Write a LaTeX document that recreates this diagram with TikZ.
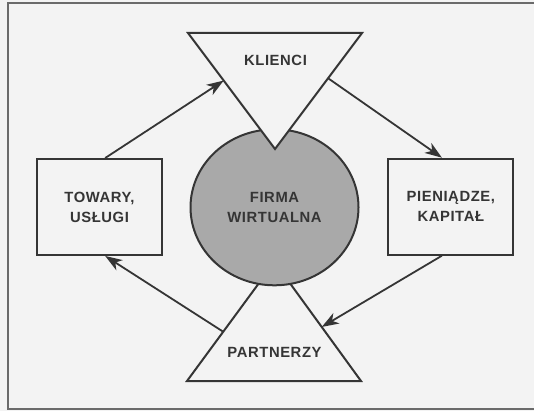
\documentclass[tikz,border=0pt]{standalone}
\usepackage{fontspec}
\setmainfont{Liberation Sans}[LetterSpace=4]
\usetikzlibrary{arrows.meta,shapes.geometric,calc}
\definecolor{ink}{HTML}{353535}
\definecolor{paper}{HTML}{F3F3F3}
\definecolor{disc}{HTML}{A9A9A9}
\definecolor{framec}{HTML}{6A6A6A}
\begin{document}
\begin{tikzpicture}[x=1pt,y=-1pt,
  lbl/.style={font=\fontsize{14.8}{20}\selectfont\bfseries, text=ink, align=center, inner sep=0pt},
  shapeline/.style={draw=ink, line width=2pt, line join=miter},
  boxnode/.style={shapeline, fill=paper, minimum width=125pt, minimum height=96pt, inner sep=0pt, lbl},
  flow/.style={draw=ink, line width=1.8pt, -{Stealth[length=17pt,width=12pt,inset=5pt]}}]
\useasboundingbox (0,0) rectangle (534,411);
\fill[paper] (0,0) rectangle (534,411);
% frame
\draw[framec, line width=2pt] (534,3.4) -- (8,3.4) -- (8,408.6) -- (534,408.6);
% bottom triangle
\coordinate (b1) at (187,381);
\coordinate (b2) at (361,381);
\coordinate (b3) at (274.5,262);
\draw[shapeline, fill=paper] (b1) -- (b2) -- (b3) -- cycle;
% ellipse (firm)
\node[ellipse, shapeline, fill=disc, minimum width=168pt, minimum height=156pt, inner sep=0pt, lbl]
  (firm) at (274.5,207.3) {FIRMA\\WIRTUALNA};
% top triangle
\coordinate (t1) at (188,33);
\coordinate (t2) at (362,33);
\coordinate (t3) at (275,149);
\draw[shapeline, fill=paper] (t1) -- (t2) -- (t3) -- cycle;
% labels in triangles
\node[lbl] (klienci) at (275.5,60.3) {KLIENCI};
\node[lbl] (partnerzy) at (274.5,352) {PARTNERZY};
% boxes
\node[boxnode] (towary) at (99.5,207) {TOWARY,\\USŁUGI};
\node[boxnode] (pieniadze) at (450.8,206.7) {PIENIĄDZE,\\KAPITAŁ};
% attachment points
\coordinate (a1s) at ($(towary.north west)!0.545!(towary.north east)$);
\coordinate (a1e) at ($(t1)!0.41!(t3)$);
\coordinate (a2s) at ($(t2)!0.39!(t3)$);
\coordinate (a2e) at ($(pieniadze.north west)!0.43!(pieniadze.north east)$);
\coordinate (a3s) at ($(pieniadze.south west)!0.43!(pieniadze.south east)$);
\coordinate (a3e) at ($(b2)!0.454!(b3)$);
\coordinate (a4s) at ($(b1)!0.414!(b3)$);
\coordinate (a4e) at ($(towary.south west)!0.545!(towary.south east)$);
\draw[flow] (a1s) -- (a1e);
\draw[flow] (a2s) -- (a2e);
\draw[flow] (a3s) -- (a3e);
\draw[flow] (a4s) -- (a4e);
\end{tikzpicture}
\end{document}
